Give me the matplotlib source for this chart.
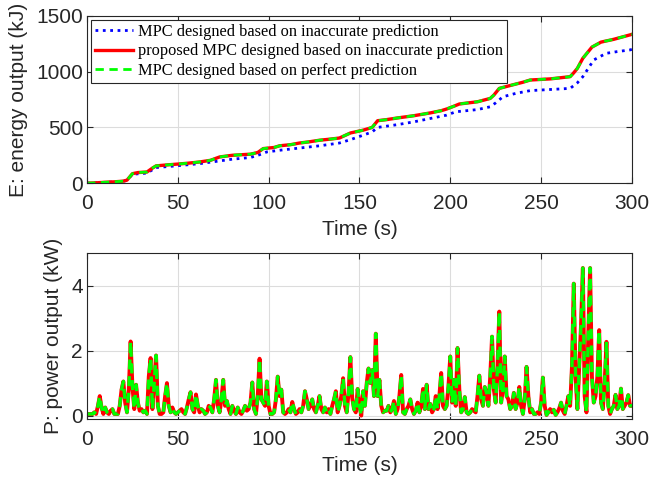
import numpy as np
import matplotlib.pyplot as plt

# =========================
# Energy output (kJ)
# =========================
t_e_prop = [0, 5, 10, 15, 20, 22, 25, 28, 33, 36, 38, 45, 49, 55, 62, 68, 73, 80, 90, 94,
            97, 103, 106, 112, 117, 122, 128, 134, 139, 145, 152, 157, 160, 165, 171, 180,
            189, 195, 198, 202, 205, 210, 215, 222, 224, 227, 234, 240, 244, 255, 266, 268,
            270, 273, 276, 278, 283, 290, 299, 300]
e_prop = [0, 3, 8, 12, 18, 27, 85, 95, 100, 135, 155, 165, 170, 178, 190, 205, 235, 250, 260, 275,
          310, 320, 335, 345, 360, 370, 385, 395, 405, 450, 475, 500, 560, 570, 585, 605,
          630, 650, 665, 690, 710, 720, 730, 760, 790, 850, 880, 905, 925, 935, 955, 990,
          1030, 1120, 1180, 1220, 1265, 1290, 1330, 1335]

t_e_inacc = [0, 5, 10, 15, 20, 22, 25, 33, 38, 49, 62, 80, 90, 95, 99, 106, 117, 128, 139, 145,
             152, 157, 160, 171, 180, 189, 198, 203, 215, 222, 225, 229, 236, 244, 255, 266,
             270, 273, 276, 279, 283, 286, 292, 299, 300]
e_inacc = [0, 3, 8, 12, 18, 25, 80, 90, 140, 155, 175, 215, 230, 255, 280, 295, 315, 335, 360, 390,
           430, 460, 500, 525, 550, 580, 610, 640, 660, 685, 720, 775, 805, 830, 840, 850,
           900, 955, 1030, 1105, 1140, 1165, 1180, 1195, 1200]

# =========================
# Power output (kW), 1 s samples, t = 0..300
# =========================
p_prop = [
    0.05, 0.05, 0.05, 0.05, 0.1, 0.05, 0.3, 0.6, 0.25, 0.05,
    0.25, 0.1, 0.05, 0.15, 0.2, 0.05, 0.05, 0.05, 0.3, 0.8,
    1.05, 0.4, 0.1, 0.8, 2.28, 0.9, 0.2, 0.95, 0.4, 0.15,
    0.2, 0.1, 0.15, 0.05, 1.2, 1.77, 0.2, 1.0, 1.85, 0.3,
    0.05, 0.05, 0.1, 0.6, 1.0, 0.3, 0.1, 0.25, 0.1, 0.05,
    0.1, 0.15, 0.2, 0.1, 0.05, 0.25, 0.5, 0.72, 0.2, 0.1,
    0.65, 0.3, 0.1, 0.2, 0.15, 0.05, 0.1, 0.3, 0.25, 0.1,
    0.5, 1.1, 0.3, 0.1, 0.5, 1.1, 0.3, 0.45, 0.2, 0.05,
    0.3, 0.15, 0.05, 0.25, 0.1, 0.05, 0.15, 0.3, 0.15, 0.2,
    0.4, 1.02, 0.2, 0.05, 0.6, 1.75, 0.5, 0.4, 0.3, 1.05,
    0.3, 0.05, 0.05, 0.1, 0.5, 1.2, 0.6, 0.8, 0.1, 0.05,
    0.1, 0.2, 0.1, 0.42, 0.2, 0.05, 0.1, 0.2, 0.1, 0.3,
    0.75, 0.5, 0.2, 0.3, 0.5, 0.2, 0.1, 0.3, 0.6, 0.2,
    0.1, 0.25, 0.1, 0.2, 0.05, 0.3, 0.5, 0.75, 0.1, 0.3,
    0.6, 1.15, 0.3, 0.1, 0.7, 1.8, 0.55, 0.2, 0.1, 0.82,
    0.3, 0.0, 0.75, 0.3, 1.0, 1.45, 1.0, 1.4, 0.6, 2.52,
    0.6, 1.1, 0.3, 0.1, 0.15, 0.15, 0.3, 0.1, 0.2, 0.45,
    0.05, 0.2, 0.6, 1.25, 0.1, 0.05, 0.2, 0.3, 0.5, 0.2,
    0.05, 0.15, 0.4, 0.1, 0.3, 0.82, 0.2, 0.95, 0.2, 0.36,
    0.1, 0.2, 0.6, 0.2, 0.6, 1.31, 0.3, 0.2, 0.3, 0.9,
    1.82, 0.4, 1.1, 0.3, 2.08, 0.8, 0.1, 0.2, 0.57, 0.1,
    0.05, 0.1, 0.2, 0.15, 0.1, 0.6, 1.23, 0.5, 0.3, 0.88,
    0.7, 0.3, 1.2, 2.43, 0.8, 0.4, 1.5, 3.2, 0.4, 0.8,
    1.82, 0.6, 0.5, 0.2, 0.3, 0.7, 0.2, 0.4, 0.88, 0.3,
    0.05, 0.5, 1.5, 0.6, 0.1, 0.2, 0.05, 0.05, 0.1, 0.05,
    0.4, 1.17, 0.3, 0.02, 0.1, 0.2, 0.1, 0.18, 0.02, 0.1,
    0.22, 0.4, 0.15, 0.05, 0.3, 0.6, 0.3, 1.5, 4.06, 1.2,
    0.2, 1.5, 2.8, 4.54, 0.6, 0.1, 2.5, 4.54, 1.2, 0.4,
    0.6, 1.2, 2.63, 0.4, 0.2, 1.0, 2.27, 0.3, 0.05, 0.2,
    0.3, 0.64, 0.2, 0.3, 0.83, 0.2, 0.3, 0.4, 0.63, 0.3,
    0.3,
]

labels = [
    "MPC designed based on inaccurate prediction",
    "proposed MPC designed based on inaccurate prediction",
    "MPC designed based on perfect prediction",
]

# =========================
# Style (MATLAB-ish)
# =========================
plt.rcParams["font.family"] = ["Liberation Sans", "DejaVu Sans"]
plt.rcParams["font.size"] = 15
dark = "#262626"


def style_axes(ax):
    ax.tick_params(direction="in", top=True, right=True, colors=dark,
                   labelsize=15, length=4, width=0.8)
    ax.tick_params(axis="x", pad=8)
    ax.tick_params(axis="y", pad=3)
    for s in ax.spines.values():
        s.set_color(dark)
        s.set_linewidth(0.8)
    ax.grid(True, color="#dcdcdc", linewidth=0.8)
    ax.set_axisbelow(True)


fig = plt.figure(figsize=(6.71, 4.82), dpi=100)

# Top: energy
ax1 = fig.add_axes([0.1297, 0.620, 0.812, 0.347])
ax1.plot(t_e_inacc, e_inacc, color="blue", linestyle=":", linewidth=2, label=labels[0])
ax1.plot(t_e_prop, e_prop, color="red", linestyle="-", linewidth=2.4, label=labels[1])
ax1.plot(t_e_prop, e_prop, color="#00ff00", linestyle="--", linewidth=2, label=labels[2],
         dashes=(3, 2))
ax1.set_xlim(0, 300)
ax1.set_ylim(0, 1500)
ax1.set_xticks(np.arange(0, 301, 50))
ax1.set_yticks([0, 500, 1000, 1500])
ax1.set_xlabel("Time (s)", color=dark, labelpad=5)
ax1.set_ylabel("E: energy output (kJ)", color=dark, labelpad=6)
style_axes(ax1)
leg = ax1.legend(loc="upper left", prop={"family": "Liberation Serif", "size": 11.8},
                 frameon=True, fancybox=False, edgecolor=dark, framealpha=1,
                 handlelength=2.3, handletextpad=0.3, labelspacing=0.2,
                 borderpad=0.25, borderaxespad=0.25)
leg.get_frame().set_linewidth(0.8)

# Bottom: power
t_p = np.arange(len(p_prop))
ax2 = fig.add_axes([0.1297, 0.131, 0.812, 0.344])
ax2.plot(t_p, p_prop, color="red", linestyle="-", linewidth=2.8)
ax2.plot(t_p, p_prop, color="#00ff00", linestyle="--", linewidth=2.4, dashes=(3, 2))
ax2.set_xlim(0, 300)
ax2.set_ylim(-0.1, 5)
ax2.set_xticks(np.arange(0, 301, 50))
ax2.set_yticks([0, 2, 4])
ax2.set_xlabel("Time (s)", color=dark, labelpad=5)
ax2.set_ylabel("P: power output (kW)", color=dark, labelpad=6)
style_axes(ax2)

fig.savefig("out.png", dpi=100)
